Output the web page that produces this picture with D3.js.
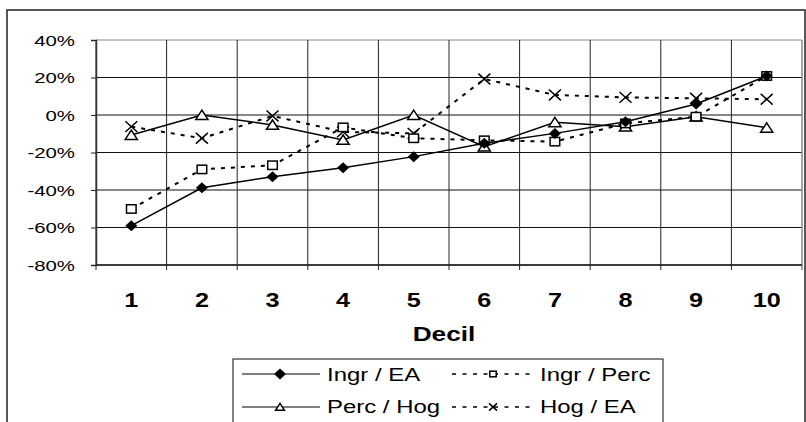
<!DOCTYPE html>
<html>
<head>
<meta charset="utf-8">
<script src="https://cdn.jsdelivr.net/npm/d3@7"></script>
<style>
  body { margin: 0; background: #fff; }
  svg { display: block; font-family: "Liberation Sans", Arial, sans-serif; }
</style>
</head>
<body>
<div id="chart"></div>
<script>
// deciles on the x axis
var deciles = [1, 2, 3, 4, 5, 6, 7, 8, 9, 10];
var yTicks = [-0.8, -0.6, -0.4, -0.2, 0, 0.2, 0.4];

// series values (%)
var ingrEA   = [-59, -38.8, -32.9, -28.1, -22.2, -15.1, -9.8, -3.6, 5.9, 20.8];
var ingrPerc = [-50.1, -29, -26.8, -6.6, -12.4, -13.5, -14.2, -4.5, -0.9, 20.8];
var percHog  = [-10.7, 0, -5.3, -13.3, 0, -16.9, -3.9, -6.2, -0.9, -6.8];
var hogEA    = [-6.2, -12.4, -0.5, -9, -9.8, 19.2, 10.7, 9.4, 8.9, 8.4];

var seriesNames = ["Ingr / EA", "Ingr / Perc", "Perc / Hog", "Hog / EA"];

var W = 806, H = 422;
var pLeft = 96, pTop = 40, pRight = 802, pBottom = 265;

var svg = d3.select("#chart").append("svg")
  .attr("width", W)
  .attr("height", H);

// outer frame (bottom edge runs off the picture)
svg.append("rect")
  .attr("x", 7).attr("y", 10)
  .attr("width", 798).attr("height", 440)
  .attr("fill", "none")
  .attr("stroke", "#222")
  .attr("stroke-width", 1.5);

var x = d3.scaleBand().domain(deciles).range([pLeft, pRight]);
var y = d3.scaleLinear().domain([-0.8, 0.4]).range([pBottom, pTop]);
var cx = function(d) { return x(d) + x.bandwidth() / 2; };

// stretch a text horizontally around its anchor
function stretch(sel, sx) {
  sel.each(function() {
    var t = d3.select(this);
    var tx = +t.attr("x") || 0, ty = +t.attr("y") || 0;
    t.attr("x", 0).attr("y", 0)
      .attr("transform", "translate(" + tx + "," + ty + ") scale(" + sx + ",1)");
  });
}

// horizontal grid
svg.append("g")
  .selectAll("line").data(yTicks).enter()
  .append("line")
  .attr("x1", pLeft).attr("x2", pRight)
  .attr("y1", function(d) { return y(d); })
  .attr("y2", function(d) { return y(d); })
  .attr("stroke", function(d) { return d === 0.4 ? "#888" : "#111"; })
  .attr("stroke-width", 1);

// vertical grid at the category boundaries + ticks below the axis
var bounds = deciles.map(function(d) { return x(d); }).concat([pRight]);
svg.append("g")
  .selectAll("line").data(bounds).enter()
  .append("line")
  .attr("x1", function(d) { return d; })
  .attr("x2", function(d) { return d; })
  .attr("y1", pTop)
  .attr("y2", pBottom + 5)
  .attr("stroke", function(d, i) { return i === bounds.length - 1 ? "#888" : "#222"; })
  .attr("stroke-width", function(d, i) { return i === bounds.length - 1 ? 1.5 : 1; });

// y axis
var yAxis = svg.append("g")
  .attr("transform", "translate(" + pLeft + ",0)")
  .call(d3.axisLeft(y).tickValues(yTicks).tickSize(5).tickPadding(16)
    .tickFormat(d3.format(".0%")));
yAxis.select(".domain").attr("stroke", "#333").attr("stroke-width", 1.5);
yAxis.selectAll(".tick line").attr("stroke", "#222");
yAxis.selectAll("text")
  .attr("font-size", 15)
  .attr("fill", "#000")
  .attr("dy", "0.36em")
  .text(function(d) { return d3.format(".0%")(d).replace("−", "-"); })
  .call(stretch, 1.36);

// x axis line
svg.append("line")
  .attr("x1", pLeft).attr("x2", pRight)
  .attr("y1", pBottom).attr("y2", pBottom)
  .attr("stroke", "#222").attr("stroke-width", 1.5);

// x labels
svg.append("g")
  .selectAll("text").data(deciles).enter()
  .append("text")
  .attr("x", cx)
  .attr("y", 307)
  .attr("text-anchor", "middle")
  .attr("font-size", 21)
  .attr("font-weight", "bold")
  .text(function(d) { return d; })
  .call(stretch, 1.2);

svg.append("text")
  .attr("x", 444)
  .attr("y", 341)
  .attr("text-anchor", "middle")
  .attr("font-size", 21)
  .attr("font-weight", "bold")
  .text("Decil")
  .call(stretch, 1.25);

// markers
function marker(g, type, s) {
  if (type === "diamond") {
    g.append("path")
      .attr("d", "M0," + (-s * 0.55) + "L" + (s * 0.6) + ",0L0," + (s * 0.55) + "L" + (-s * 0.6) + ",0Z")
      .attr("fill", "#000");
  } else if (type === "square") {
    g.append("rect")
      .attr("x", -s * 0.4).attr("y", -s * 0.35)
      .attr("width", s * 0.8).attr("height", s * 0.7)
      .attr("fill", "#fff").attr("stroke", "#000").attr("stroke-width", 1.5);
  } else if (type === "triangle") {
    g.append("path")
      .attr("d", "M0," + (-s * 0.45) + "L" + (s * 0.55) + "," + (s * 0.4) + "L" + (-s * 0.55) + "," + (s * 0.4) + "Z")
      .attr("fill", "#fff").attr("stroke", "#000").attr("stroke-width", 1.5);
  } else if (type === "x") {
    g.append("path")
      .attr("d", "M" + (-s * 0.5) + "," + (-s * 0.45) + "L" + (s * 0.5) + "," + (s * 0.45) +
                 "M" + (s * 0.5) + "," + (-s * 0.45) + "L" + (-s * 0.5) + "," + (s * 0.45))
      .attr("fill", "none").attr("stroke", "#000").attr("stroke-width", 1.5);
  }
}

var series = [
  { name: seriesNames[0], values: ingrEA,   dash: null,    width: 1.5, mark: "diamond",  size: 10 },
  { name: seriesNames[1], values: ingrPerc, dash: "4,6",   width: 2,   mark: "square",   size: 12 },
  { name: seriesNames[2], values: percHog,  dash: null,    width: 1.5, mark: "triangle", size: 11 },
  { name: seriesNames[3], values: hogEA,    dash: "4,6",   width: 2,   mark: "x",        size: 12 }
];

var line = d3.line()
  .x(function(d, i) { return cx(deciles[i]); })
  .y(function(d) { return y(d / 100); });

// lines first, then markers on top (diamond last)
series.forEach(function(s) {
  svg.append("path")
    .attr("d", line(s.values))
    .attr("fill", "none")
    .attr("stroke", "#000")
    .attr("stroke-width", s.width)
    .attr("stroke-dasharray", s.dash);
});
[3, 2, 1, 0].forEach(function(k) {
  var s = series[k];
  svg.append("g").selectAll("g").data(s.values).enter()
    .append("g")
    .attr("transform", function(d, i) { return "translate(" + cx(deciles[i]) + "," + y(d / 100) + ")"; })
    .each(function() { marker(d3.select(this), s.mark, s.size); });
});

// legend
svg.append("rect")
  .attr("x", 233).attr("y", 359)
  .attr("width", 430).attr("height", 90)
  .attr("fill", "#fff").attr("stroke", "#333").attr("stroke-width", 1.2);

var legPos = [
  { x1: 242, x2: 320, mx: 280, tx: 327, ly: 374, ty: 381 },
  { x1: 452, x2: 536, mx: 493, tx: 540, ly: 374, ty: 381 },
  { x1: 242, x2: 320, mx: 280, tx: 327, ly: 407, ty: 413 },
  { x1: 452, x2: 536, mx: 493, tx: 540, ly: 407, ty: 413 }
];
series.forEach(function(s, i) {
  var p = legPos[i];
  var g = svg.append("g");
  g.append("line")
    .attr("x1", p.x1).attr("x2", p.x2)
    .attr("y1", p.ly).attr("y2", p.ly)
    .attr("stroke", "#000")
    .attr("stroke-width", s.dash ? 1.5 : 1.2)
    .attr("stroke-dasharray", s.dash ? "4,6.5" : null);
  var m = g.append("g").attr("transform", "translate(" + p.mx + "," + p.ly + ")");
  marker(m, s.mark, s.mark === "diamond" ? 10 : 8);
  g.append("text")
    .attr("x", p.tx).attr("y", p.ty)
    .attr("font-size", 19)
    .text(s.name)
    .call(stretch, 1.26);
});
</script>
</body>
</html>
